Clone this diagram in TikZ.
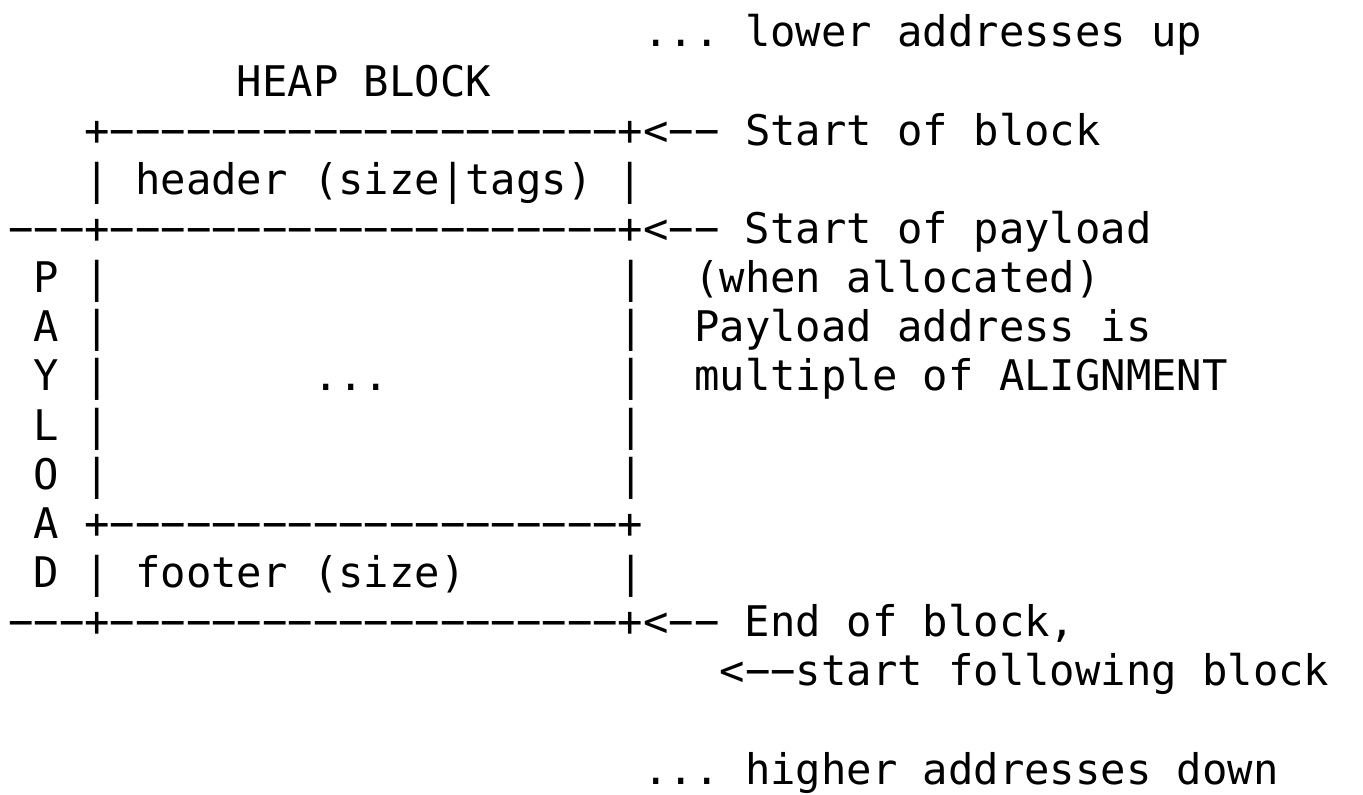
\documentclass[tikz,border=0pt]{standalone}
\usepackage{fontspec}
\setmonofont{DejaVu Sans Mono}
\frenchspacing
\newcommand\blank[1]{\hspace*{#1\dimexpr 0.60205em\relax}}
\newcommand\dashrun[1]{\foreach \d in {1,...,#1}{−}}
\begin{document}
\begin{tikzpicture}[x=0.75pt,y=-0.75pt,
    row/.style={anchor=base west,inner sep=0pt,font=\ttfamily\fontsize{31.65pt}{37pt}\selectfont}]
            \useasboundingbox (0,0) rectangle (1363,795);
            \node[row] at (8,47) (lower) {\blank{25}... lower addresses up};
            \node[row] at (8,96.1) (title) {\blank{9}HEAP BLOCK};
            \node[row] at (8,145.3) (blockstart) {\blank{3}+\dashrun{20}+<−− Start of block};
            \node[row] at (8,194.4) (header) {\blank{3}| header (size|tags) |};
            \node[row] at (8,243.5) (payloadstart) {−−−+\dashrun{20}+<−− Start of payload};
            \node[row] at (8,292.7) (rowP) {\blank{1}P | \blank{19}| \blank{1}(when allocated)};
            \node[row] at (8,341.8) (rowA) {\blank{1}A | \blank{19}| \blank{1}Payload address is};
            \node[row] at (8,390.9) (rowY) {\blank{1}Y | \blank{7}... \blank{8}| \blank{1}multiple of ALIGNMENT};
            \node[row] at (8,440.0) (rowL) {\blank{1}L | \blank{19}|};
            \node[row] at (8,489.2) (rowO) {\blank{1}O | \blank{19}|};
            \node[row] at (8,538.3) (rowA2) {\blank{1}A +\dashrun{20}+};
            \node[row] at (8,587.4) (footer) {\blank{1}D | footer (size) \blank{5}|};
            \node[row] at (8,636.6) (blockend) {−−−+\dashrun{20}+<−− End of block,};
            \node[row] at (8,685.7) (following) {\blank{28}<−−start following block};
            %\node[row] at (8,734.8) (gap) {};
            \node[row] at (8,784) (higher) {\blank{25}... higher addresses down};
        \end{tikzpicture}
\end{document}
